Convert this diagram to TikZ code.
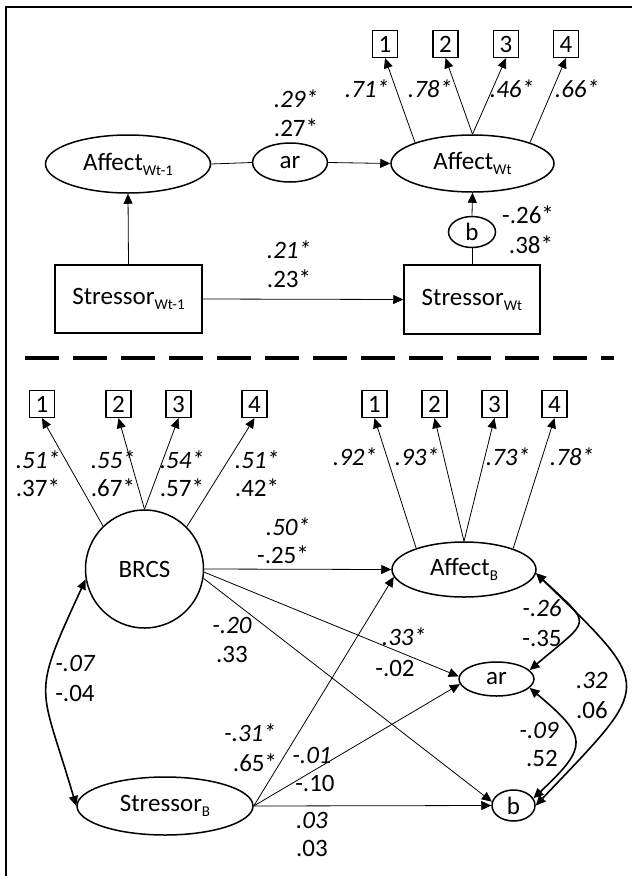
\documentclass[tikz,border=0pt]{standalone}
\usepackage{fontspec}
\setmainfont{Carlito}
\usetikzlibrary{shapes.geometric,arrows.meta}
\newcommand\sbs[1]{\raisebox{-5pt}{\fontsize{15}{17}\selectfont #1}}
\begin{document}
\begin{tikzpicture}[x=1pt,y=-1pt,
 every node/.style={font=\fontsize{25}{29}\selectfont, inner sep=0pt},
 ell/.style={draw, ellipse, line width=1.5pt},
 boxn/.style={draw, rectangle, line width=1.5pt},
 ind/.style={draw, rectangle, line width=1.3pt, minimum width=25pt, minimum height=27pt},
 arr/.style={line width=0.8pt, -{Triangle[length=10pt,width=9pt]}},
 plain/.style={line width=0.8pt},
 cov/.style={line width=1.6pt, {Triangle[length=10pt,width=9pt]}-{Triangle[length=10pt,width=9pt]}},
 lit/.style={font=\fontsize{25}{29}\selectfont\itshape},
 lup/.style={font=\fontsize{25}{29}\selectfont},
]
\useasboundingbox (0,0) rectangle (632,876);
% frame
\draw[line width=1.6pt] (6,876) -- (6,7) -- (632,7);

% ---------- top part ----------
\node[ind] (i1) at (385,44) {1};
\node[ind] (i2) at (445.5,44) {2};
\node[ind] (i3) at (506,44) {3};
\node[ind] (i4) at (566,44) {4};
\node[ell, minimum width=163pt, minimum height=57pt] (aw) at (472.5,163.5) {Affect\sbs{Wt}};
\node[ell, minimum width=165pt, minimum height=58pt] (aw1) at (128,164) {Affect\sbs{Wt-1}};
\node[ell, minimum width=75pt, minimum height=39pt] (ar1) at (290,162.5) {ar};
\node[ell, minimum width=47pt, minimum height=31pt] (b1) at (472,232) {b};
\node[boxn, minimum width=147pt, minimum height=68pt] (sw1) at (128.5,299) {Stressor\sbs{Wt-1}};
\node[boxn, minimum width=136pt, minimum height=69pt] (sw) at (472,299.5) {Stressor\sbs{Wt}};

\draw[arr] (aw.160) -- (i1.south);
\draw[arr] (aw.north) -- (i2.south);
\draw[arr] (aw.north) -- (i3.south);
\draw[arr] (aw.20) -- (i4.south);
\draw[plain] (aw1.east) -- (ar1.west);
\draw[arr] (ar1.east) -- (aw.west);
\draw[arr] (sw1.north) -- (aw1.south);
\draw[arr] (sw1.east) -- (sw.west);
\draw[plain] (sw.north) -- (b1.south);
\draw[arr] (b1.north) -- (aw.south);

\node[lit] (t1) at (367,89) {.71*};
\node[lit] (t2) at (430,89) {.78*};
\node[lit] (t3) at (512,89) {.46*};
\node[lit] (t4) at (577,89) {.66*};
\node[lit] (ta) at (296,99) {.29*};
\node[lup] (tb) at (296,128) {.27*};
\node[lit] (tc) at (289,250) {.21*};
\node[lup] (td) at (289,279) {.23*};
\node[lup] (te) at (528,215) {-.26*};
\node[lup] (tf) at (531,245) {.38*};

% dashed separator
\draw[line width=4pt, dash pattern=on 34pt off 14pt] (25,358) -- (614,358);

% ---------- bottom part ----------
\node[ind] (j1) at (42,404) {1};
\node[ind] (j2) at (118.5,404) {2};
\node[ind] (j3) at (178.5,404) {3};
\node[ind] (j4) at (254.5,404) {4};
\node[ind] (k1) at (374.5,404) {1};
\node[ind] (k2) at (434.5,404) {2};
\node[ind] (k3) at (494.5,404) {3};
\node[ind] (k4) at (554.5,404) {4};
\node[draw, circle, line width=1.5pt, minimum size=118pt] (brcs) at (144.5,569) {BRCS};
\node[ell, minimum width=144pt, minimum height=55pt] (ab) at (464,569.5) {Affect\sbs{B}};
\node[ell, minimum width=176pt, minimum height=58pt] (sb) at (165,806) {Stressor\sbs{B}};
\node[ell, minimum width=75pt, minimum height=34pt] (ar2) at (496.5,679) {ar};
\node[ell, minimum width=43pt, minimum height=31pt] (b2) at (513.5,805.5) {b};

\draw[arr] (brcs.134) -- (j1.south);
\draw[arr] (brcs.north) -- (j2.south);
\draw[arr] (brcs.north) -- (j3.south);
\draw[arr] (brcs.45) -- (j4.south);
\draw[arr] (ab.156) -- (k1.south);
\draw[arr] (ab.north) -- (k2.south);
\draw[arr] (ab.north) -- (k3.south);
\draw[arr] (ab.23) -- (k4.south);

\draw[arr] (brcs.east) -- (ab.west);
\draw[arr] (brcs.-3) -- (ar2.176);
\draw[arr] (brcs.-9) -- (b2.170);
\draw[arr] (sb.east) -- (ab.186);
\draw[arr] (sb.east) -- (ar2.188);
\draw[arr] (sb.east) -- (b2.west);

\draw[cov] (brcs.190) .. controls (30,700) and (40,682) .. (sb.west);
\draw[cov] (ab.-3) .. controls (593,627) and (592,617) .. (ar2.15);
\draw[cov] (ab.-3) .. controls (656,690) and (653,682) .. (b2.east);
\draw[cov] (ar2.-15) .. controls (588,737) and (589,746) .. (b2.20);

\node[lit] (u1) at (38,460) {.51*};
\node[lup] (u2) at (38,488) {.37*};
\node[lit] (u3) at (113,460) {.55*};
\node[lup] (u4) at (113,488) {.67*};
\node[lit] (u5) at (182,460) {.54*};
\node[lup] (u6) at (182,488) {.57*};
\node[lit] (u7) at (257,460) {.51*};
\node[lup] (u8) at (257,488) {.42*};
\node[lit] (v1) at (355,457) {.92*};
\node[lit] (v2) at (417,457) {.93*};
\node[lit] (v3) at (508,457) {.73*};
\node[lit] (v4) at (572,457) {.78*};
\node[lit] (w1) at (288,527) {.50*};
\node[lup] (w2) at (283,555) {-.25*};
\node[lit] (w3) at (232,625) {-.20};
\node[lup] (w4) at (232,654) {.33};
\node[lit] (w5) at (404,637) {.33*};
\node[lup] (w6) at (395,668) {-.02};
\node[lit] (w7) at (75,663) {-.07};
\node[lup] (w8) at (75,693) {-.04};
\node[lit] (w9) at (250,733) {-.31*};
\node[lup] (w10) at (255,763) {.65*};
\node[lit] (w11) at (312,755) {-.01};
\node[lup] (w12) at (315,783) {-.10};
\node[lit] (w13) at (312,820) {.03};
\node[lup] (w14) at (312,848) {.03};
\node[lit] (w15) at (542,608) {-.26};
\node[lup] (w16) at (542,638) {-.35};
\node[lit] (w17) at (592,680) {.32};
\node[lup] (w18) at (592,710) {.06};
\node[lit] (w19) at (539,730) {-.09};
\node[lup] (w20) at (542,758) {.52};
\end{tikzpicture}
\end{document}
